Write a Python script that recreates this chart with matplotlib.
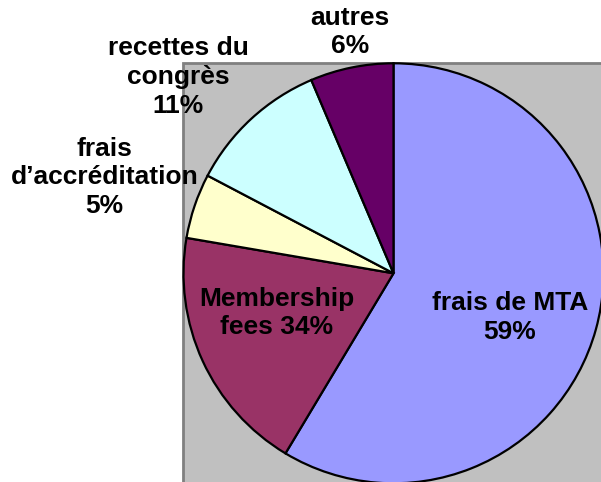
import matplotlib
matplotlib.use("Agg")
import matplotlib.pyplot as plt
from matplotlib.patches import Rectangle

# Data (pie shares; label texts as printed on chart)
categories = ["frais de MTA", "Membership\nfees", "frais\nd\u2019accr\u00e9ditation", "recettes du\ncongr\u00e8s", "autres"]
shares = [58.6, 19.1, 5.0, 10.9, 6.4]
pct_labels = ["59%", "34%", "5%", "11%", "6%"]
colors = ["#9999FF", "#993366", "#FFFFCC", "#CCFFFF", "#660066"]

W, H = 601, 482
fig = plt.figure(figsize=(W / 100, H / 100), dpi=100)
ax = fig.add_axes([0, 0, 1, 1])

# plot area background
ax.add_patch(Rectangle((183, -5), W - 183 + 10, H - 63 + 5, facecolor="#C0C0C0",
                       edgecolor="#808080", linewidth=2, zorder=0))

cx, cy, r = 393.5, H - 273.3, 210
wedges, _ = ax.pie(shares, colors=colors, startangle=90, counterclock=False,
                   center=(cx, cy), radius=r, frame=True,
                   wedgeprops=dict(edgecolor="black", linewidth=1.6))
ax.set_xlim(0, W)
ax.set_ylim(0, H)
ax.set_aspect("equal")
ax.axis("off")

font = dict(family=["Liberation Sans", "DejaVu Sans"], fontweight="bold", fontsize=19,
            ha="center", va="center", linespacing=1.25, color="black", zorder=5)

texts = [
    ("frais de MTA\n" + pct_labels[0], 510, 317.5),
    ("Membership\nfees " + pct_labels[1], 276.5, 313),
    ("frais\nd\u2019accr\u00e9ditation\n" + pct_labels[2], 104.5, 177.5),
    ("recettes du\ncongr\u00e8s\n" + pct_labels[3], 178, 77),
    ("autres\n" + pct_labels[4], 350, 32),
]
for s, x, y in texts:
    ax.text(x, H - y, s, **font)

fig.savefig("out.png", dpi=100)
